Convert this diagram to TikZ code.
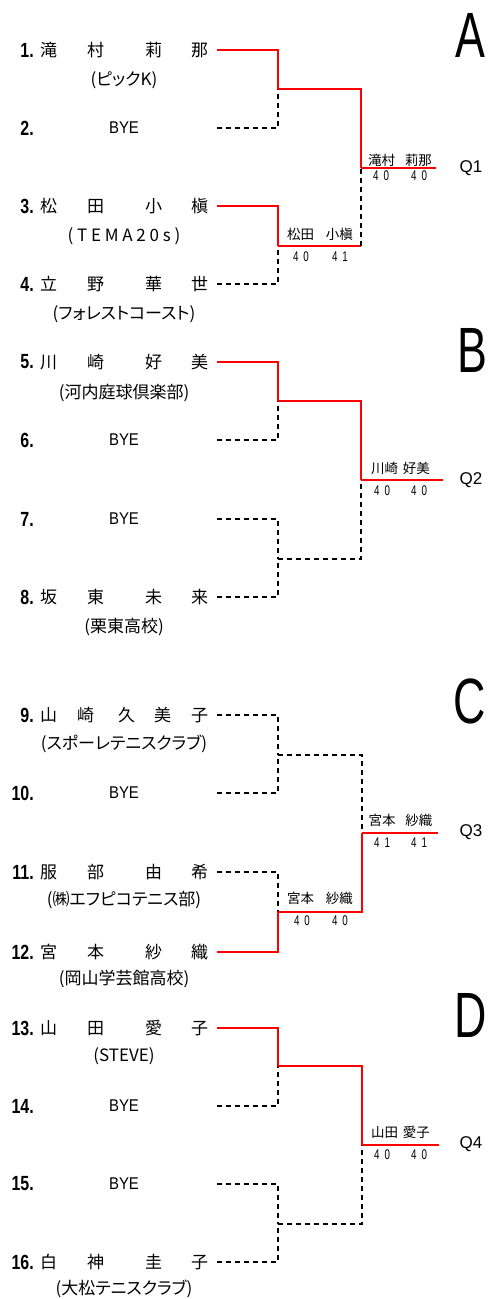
\documentclass[tikz,border=0pt]{standalone}
\usepackage{fontspec}
\setmainfont{Liberation Sans}
\newfontfamily\jpfont{Noto Sans CJK JP}
\newfontfamily\jppfont[RawFeature=+palt]{Noto Sans CJK JP}
\newfontfamily\numfont[FakeStretch=0.78]{Liberation Sans}
\newfontfamily\byefont[FakeStretch=0.88]{Liberation Sans}
\newfontfamily\narrowfont[FakeStretch=0.7]{Liberation Sans}
\newfontfamily\letterfont[FakeStretch=0.7]{Liberation Sans}
\usetikzlibrary{positioning}

\newcommand{\fourname}[4]{#1\hspace{30pt}#2\hspace{41pt}#3\hspace{29pt}#4}
\newcommand{\fivename}[5]{#1\hspace{20pt}#2\hspace{24pt}#3\hspace{19pt}#4\hspace{20pt}#5}
\newcommand{\pts}[2]{#1\hspace{5pt}#2}

\begin{document}
\begin{tikzpicture}[x=1pt,y=-1pt,
    num/.style={anchor=east, inner sep=0pt, font=\numfont\bfseries\fontsize{20.5}{20}\selectfont},
    pname/.style={anchor=west, inner sep=0pt, font=\jpfont\fontsize{17}{17}\selectfont},
    team/.style={inner sep=0pt, font=\jppfont\fontsize{17}{17}\selectfont},
    bye/.style={inner sep=0pt, font=\byefont\fontsize{17}{17}\selectfont},
    wname/.style={inner sep=0pt, font=\jpfont\fontsize{13.5}{14}\selectfont},
    score/.style={inner sep=0pt, font=\narrowfont\fontsize{14}{14}\selectfont},
    qlab/.style={inner sep=0pt, font=\fontsize{17}{17}\selectfont},
    block/.style={inner sep=0pt, font=\letterfont\fontsize{64}{64}\selectfont},
    win/.style={red, line width=2.3pt},
    lose/.style={black, line width=1.5pt, dash pattern=on 5pt off 4pt}]
    \useasboundingbox (0,0) rectangle (488,1299);

    % Block A
    \node[block] (A) at (470,35) {A};
    \node[num] (n1) at (34,50) {1.};
    \node[pname] (s1) at (40,50) {\fourname{滝}{村}{莉}{那}};
    \node[team] (t1) at (124,80) {(ピックK)};
    \node[num] (n2) at (34,128) {2.};
    \node[bye] (s2) at (124,128) {BYE};
    \node[num] (n3) at (34,206) {3.};
    \node[pname] (s3) at (40,206) {\fourname{松}{田}{小}{槇}};
    \node[team] (t3) at (124,236) {\addfontfeature{LetterSpace=22}(TEMA20s)};
    \node[num] (n4) at (34,284) {4.};
    \node[pname] (s4) at (40,284) {\fourname{立}{野}{華}{世}};
    \node[team] (t4) at (124,314) {(フォレストコースト)};
    \coordinate (p1) at (217,50);
    \coordinate (p2) at (217,128);
    \coordinate (p3) at (217,206);
    \coordinate (p4) at (217,284);
    \coordinate (m1) at (278,89);
    \coordinate (m2) at (278,246);
    \coordinate (f1) at (361,168);
    \coordinate (e1) at (436,168);
    \draw[win] (p1) -| (m1);
    \draw[lose] (p2) -| (m1);
    \draw[win] (m1) -| (f1);
    \draw[win] (p3) -| (m2);
    \draw[lose] (p4) -| (m2);
    \draw[win] (m2) -- (m2 -| f1);
    \draw[lose] (m2 -| f1) -- (f1);
    \draw[win] (f1) -- (e1);
    \node[wname] (w2) at (320,234) {松田\hspace{12pt}小槇};
    \node[score] (c2a) at (301,257) {\pts{4}{0}};
    \node[score] (c2b) at (340,257) {\pts{4}{1}};
    \node[wname] (wf1) at (400,160) {滝村\hspace{10pt}莉那};
    \node[score] (cf1a) at (381,176) {\pts{4}{0}};
    \node[score] (cf1b) at (419,176) {\pts{4}{0}};
    \node[qlab] (q1) at (471,168) {Q1};

    % Block B
    \node[block] (B) at (472,350) {B};
    \node[num] (n5) at (34,362) {5.};
    \node[pname] (s5) at (40,362) {\fourname{川}{崎}{好}{美}};
    \node[team] (t5) at (124,393) {(河内庭球倶楽部)};
    \node[num] (n6) at (34,440) {6.};
    \node[bye] (s6) at (124,440) {BYE};
    \node[num] (n7) at (34,519) {7.};
    \node[bye] (s7) at (124,519) {BYE};
    \node[num] (n8) at (34,597) {8.};
    \node[pname] (s8) at (40,597) {\fourname{坂}{東}{未}{来}};
    \node[team] (t8) at (124,627) {(栗東高校)};
    \coordinate (p5) at (217,362);
    \coordinate (p6) at (217,440);
    \coordinate (p7) at (217,519);
    \coordinate (p8) at (217,597);
    \coordinate (m3) at (278,401);
    \coordinate (m4) at (278,559);
    \coordinate (f2) at (361,480);
    \coordinate (e2) at (443,480);
    \draw[win] (p5) -| (m3);
    \draw[lose] (p6) -| (m3);
    \draw[win] (m3) -| (f2);
    \draw[lose] (p7) -| (m4);
    \draw[lose] (p8) -| (m4);
    \draw[lose] (m4) -| (f2);
    \draw[win] (f2) -- (e2);
    \node[wname] (wf2) at (400.5,468) {川崎\hspace{5pt}好美};
    \node[score] (cf2a) at (382,491) {\pts{4}{0}};
    \node[score] (cf2b) at (419,491) {\pts{4}{0}};
    \node[qlab] (q2) at (471,480) {Q2};

    % Block C
    \node[block] (C) at (470,701) {C};
    \node[num] (n9) at (34,715) {9.};
    \node[pname] (s9) at (40,715) {\fivename{山}{崎}{久}{美}{子}};
    \node[team] (t9) at (124,744) {(スポーレテニスクラブ)};
    \node[num] (n10) at (34,793) {10.};
    \node[bye] (s10) at (124,793) {BYE};
    \node[num] (n11) at (34,872) {11.};
    \node[pname] (s11) at (40,872) {\fourname{服}{部}{由}{希}};
    \node[team] (t11) at (124,900) {(㈱エフピコテニス部)};
    \node[num] (n12) at (34,952) {12.};
    \node[pname] (s12) at (40,952) {\fourname{宮}{本}{紗}{織}};
    \node[team] (t12) at (124,979) {(岡山学芸館高校)};
    \coordinate (p9) at (217,715);
    \coordinate (p10) at (217,793);
    \coordinate (p11) at (217,872);
    \coordinate (p12) at (217,952);
    \coordinate (m5) at (278,755);
    \coordinate (m6) at (278,912);
    \coordinate (f3) at (362,833);
    \coordinate (e3) at (438,833);
    \draw[lose] (p9) -| (m5);
    \draw[lose] (p10) -| (m5);
    \draw[lose] (m5) -| (f3);
    \draw[lose] (p11) -| (m6);
    \draw[win] (p12) -| (m6);
    \draw[win] (m6) -| (f3);
    \draw[win] (f3) -- (e3);
    \node[wname] (w6) at (320,898) {宮本\hspace{12pt}紗織};
    \node[score] (c6a) at (302,921) {\pts{4}{0}};
    \node[score] (c6b) at (340,921) {\pts{4}{0}};
    \node[wname] (wf3) at (400.5,820) {宮本\hspace{10pt}紗織};
    \node[score] (cf3a) at (382,843) {\pts{4}{1}};
    \node[score] (cf3b) at (419,843) {\pts{4}{1}};
    \node[qlab] (q3) at (471,832) {Q3};

    % Block D
    \node[block] (D) at (471,1015) {D};
    \node[num] (n13) at (34,1028) {13.};
    \node[pname] (s13) at (40,1028) {\fourname{山}{田}{愛}{子}};
    \node[team] (t13) at (124,1056) {(STEVE)};
    \node[num] (n14) at (34,1106) {14.};
    \node[bye] (s14) at (124,1106) {BYE};
    \node[num] (n15) at (34,1184) {15.};
    \node[bye] (s15) at (124,1184) {BYE};
    \node[num] (n16) at (34,1262) {16.};
    \node[pname] (s16) at (40,1262) {\fourname{白}{神}{圭}{子}};
    \node[team] (t16) at (124,1289) {(大松テニスクラブ)};
    \coordinate (p13) at (217,1028);
    \coordinate (p14) at (217,1106);
    \coordinate (p15) at (217,1184);
    \coordinate (p16) at (217,1262);
    \coordinate (m7) at (278,1066);
    \coordinate (m8) at (278,1224);
    \coordinate (f4) at (362,1145);
    \coordinate (e4) at (439,1145);
    \draw[win] (p13) -| (m7);
    \draw[lose] (p14) -| (m7);
    \draw[win] (m7) -| (f4);
    \draw[lose] (p15) -| (m8);
    \draw[lose] (p16) -| (m8);
    \draw[lose] (m8) -| (f4);
    \draw[win] (f4) -- (e4);
    \node[wname] (wf4) at (400.5,1132) {山田\hspace{5pt}愛子};
    \node[score] (cf4a) at (382,1155) {\pts{4}{0}};
    \node[score] (cf4b) at (419,1155) {\pts{4}{0}};
    \node[qlab] (q4) at (471,1144) {Q4};
\end{tikzpicture}
\end{document}
